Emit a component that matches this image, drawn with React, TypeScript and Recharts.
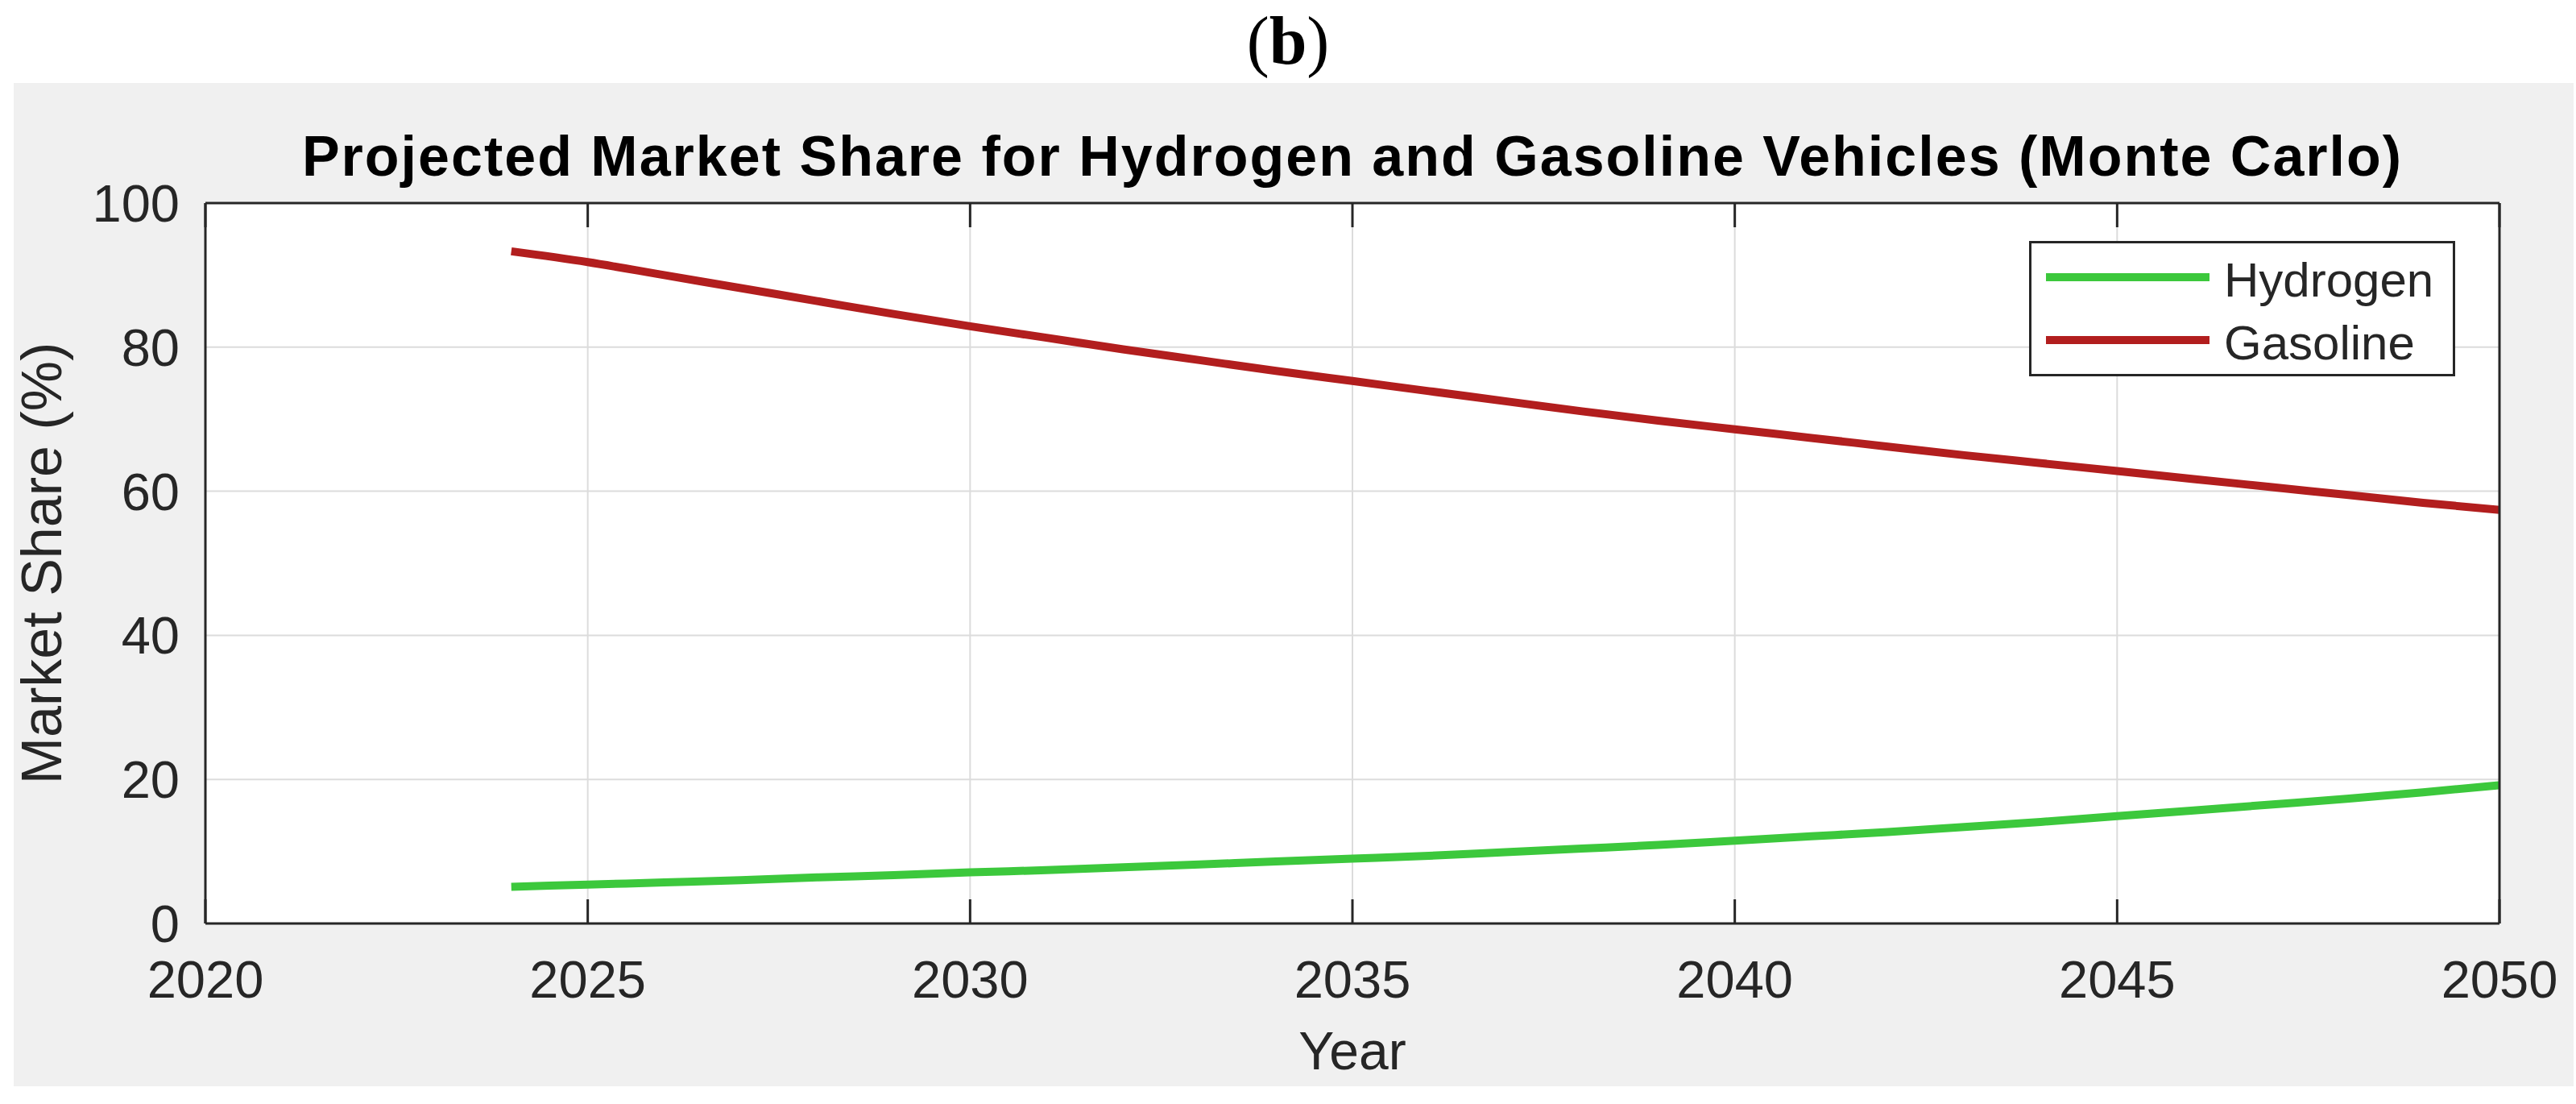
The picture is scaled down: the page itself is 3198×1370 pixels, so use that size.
import React from 'react';
import { LineChart, Line, XAxis, YAxis, CartesianGrid, Legend } from 'recharts';

// values (market share, %)
const years = [
  2024, 2025, 2026, 2027, 2028, 2029, 2030, 2031, 2032, 2033, 2034, 2035, 2036, 2037,
  2038, 2039, 2040, 2041, 2042, 2043, 2044, 2045, 2046, 2047, 2048, 2049, 2050,
];
const hydrogenShare = [
  5.1, 5.4, 5.7, 6.0, 6.4, 6.7, 7.1, 7.4, 7.8, 8.2, 8.6, 9.0, 9.4, 9.9,
  10.4, 10.9, 11.5, 12.1, 12.7, 13.4, 14.1, 14.9, 15.7, 16.5, 17.3, 18.2, 19.2,
];
const gasolineShare = [
  93.3, 91.8, 90.0, 88.2, 86.4, 84.6, 82.9, 81.3, 79.7, 78.2, 76.7, 75.3, 73.9, 72.5,
  71.1, 69.8, 68.6, 67.4, 66.2, 65.0, 63.9, 62.8, 61.7, 60.6, 59.5, 58.4, 57.4,
];
const xTicks = [2020, 2025, 2030, 2035, 2040, 2045, 2050];
const yTicks = [0, 20, 40, 60, 80, 100];

const SERIES = [
  { key: 'hydrogen', name: 'Hydrogen', color: '#3cc83c' },
  { key: 'gasoline', name: 'Gasoline', color: '#b21e1e' },
];

const FONT = "'Liberation Sans', Arial, Helvetica, sans-serif";
const INK = '#262626';

const axisLine = { stroke: INK, strokeWidth: 3 };
const tickLine = { stroke: INK, strokeWidth: 3 };
const tickStyle = { fontSize: 65, fill: INK, fontFamily: FONT };

// tick marks only, no label
const NoLabel = () => <g />;

function LegendBox({ payload }: any) {
  // keep the plotting order (Hydrogen first), not the alphabetical one
  const order = SERIES.map((s) => s.name);
  const rows = [...(payload ?? [])].sort(
    (a: any, b: any) => order.indexOf(a.value) - order.indexOf(b.value),
  );
  return (
    <svg width={529} height={168} style={{ display: 'block' }}>
      <rect x={1.5} y={1.5} width={526} height={165} fill="#fff" stroke={INK} strokeWidth={3} />
      {rows.map((p: any, i: number) => {
        const cy = 45 + i * 78;
        return (
          <g key={p.value}>
            <line x1={21} x2={224} y1={cy} y2={cy} stroke={p.color} strokeWidth={10} />
            <text x={242} y={cy + 24} fontSize={60} fill={INK} fontFamily={FONT}>
              {p.value}
            </text>
          </g>
        );
      })}
    </svg>
  );
}

export default function App() {
  const data = years.map((year, i) => ({
    year,
    hydrogen: hydrogenShare[i],
    gasoline: gasolineShare[i],
  }));

  return (
    <div style={{ position: 'relative', width: 3198, height: 1370, background: '#fff' }}>
      <style>{'body{margin:0}'}</style>
      <div
        style={{
          position: 'absolute',
          left: 0,
          top: 9,
          width: 3198,
          textAlign: 'center',
          fontFamily: "'Liberation Serif', 'Times New Roman', serif",
          fontSize: 84,
          lineHeight: 1,
          color: '#000',
        }}
      >
        (<b>b</b>)
      </div>
      <div
        style={{
          position: 'absolute',
          left: 17,
          top: 103,
          width: 3178,
          height: 1245,
          background: '#f0f0f0',
        }}
      />
      <div style={{ position: 'absolute', left: 0, top: 0 }}>
        <LineChart
          width={3198}
          height={1370}
          data={data}
          margin={{ top: 252, right: 95, bottom: 24, left: 20 }}
        >
          <CartesianGrid stroke="#dcdcdc" strokeWidth={2} fill="#ffffff" fillOpacity={1} />
          {SERIES.map((s) => (
            <Line
              key={s.key}
              type="monotone"
              dataKey={s.key}
              name={s.name}
              stroke={s.color}
              strokeWidth={10}
              dot={false}
              activeDot={false}
              isAnimationActive={false}
            />
          ))}
          {/* labelled axes */}
          <XAxis
            dataKey="year"
            type="number"
            domain={[2020, 2050]}
            ticks={xTicks}
            height={200}
            tickSize={0}
            tickMargin={46}
            axisLine={axisLine}
            tickLine={false}
            tick={tickStyle}
            label={{
              value: 'Year',
              position: 'insideBottom',
              offset: 19,
              style: { fontSize: 66, fill: INK, fontFamily: FONT },
            }}
          />
          <YAxis
            type="number"
            domain={[0, 100]}
            ticks={yTicks}
            width={235}
            tickSize={0}
            tickMargin={32}
            axisLine={axisLine}
            tickLine={false}
            tick={tickStyle}
            label={{
              value: 'Market Share (%)',
              angle: -90,
              position: 'insideLeft',
              offset: 31,
              style: { textAnchor: 'middle', fontSize: 70, fill: INK, fontFamily: FONT },
            }}
          />
          {/* mirrored axes: inward tick marks and the rest of the box */}
          <XAxis
            xAxisId="bottomTicks"
            orientation="bottom"
            mirror
            type="number"
            dataKey="year"
            domain={[2020, 2050]}
            ticks={xTicks}
            tickSize={30}
            axisLine={false}
            tickLine={tickLine}
            tick={NoLabel}
          />
          <XAxis
            xAxisId="top"
            orientation="top"
            mirror
            type="number"
            dataKey="year"
            domain={[2020, 2050]}
            ticks={xTicks}
            tickSize={30}
            axisLine={axisLine}
            tickLine={tickLine}
            tick={NoLabel}
          />
          <YAxis
            yAxisId="leftTicks"
            orientation="left"
            mirror
            type="number"
            domain={[0, 100]}
            ticks={yTicks}
            tickSize={30}
            axisLine={false}
            tickLine={tickLine}
            tick={NoLabel}
          />
          <YAxis
            yAxisId="right"
            orientation="right"
            mirror
            type="number"
            domain={[0, 100]}
            ticks={yTicks}
            tickSize={30}
            axisLine={axisLine}
            tickLine={tickLine}
            tick={NoLabel}
          />
          <Legend
            layout="vertical"
            align="center"
            verticalAlign="middle"
            content={<LegendBox />}
            wrapperStyle={{ left: 2519, top: 299, width: 529, height: 168 }}
          />
        </LineChart>
      </div>
      <div
        style={{
          position: 'absolute',
          left: 255,
          top: 159,
          width: 2848,
          textAlign: 'center',
          fontFamily: FONT,
          fontWeight: 'bold',
          fontSize: 70,
          letterSpacing: 2,
          lineHeight: 1,
          color: '#000',
          whiteSpace: 'nowrap',
        }}
      >
        Projected Market Share for Hydrogen and Gasoline Vehicles (Monte Carlo)
      </div>
    </div>
  );
}
